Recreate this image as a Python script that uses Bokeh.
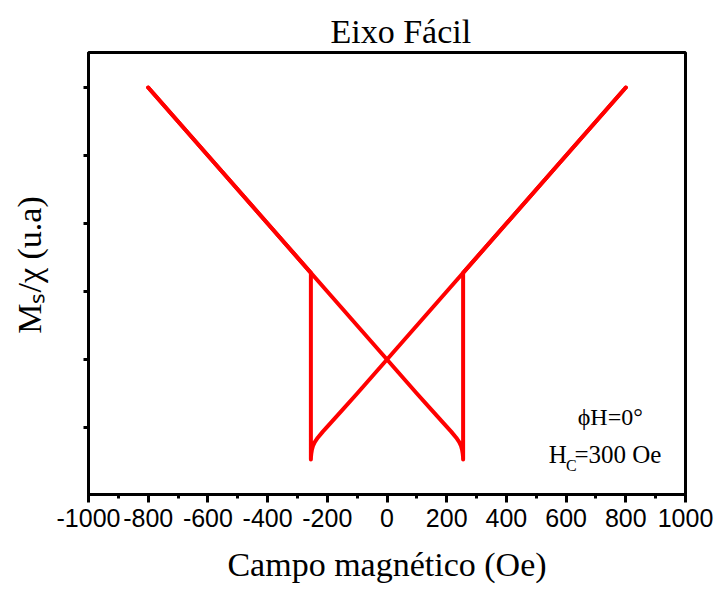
from bokeh.plotting import figure
from bokeh.models import Label, Range1d, SingleIntervalTicker, FixedTicker
from bokeh.embed import file_html
from bokeh.resources import INLINE

# Branch swept from negative field: "\" line down to the switching field, jump, then "/" line
field_branch1 = [-800, -600, -400, -200, 0, 100, 150, 190, 215, 232, 242, 248, 251.5, 253.5, 254.7, 255, 255, 400, 600, 800]
m_branch1 = [6.0, 5.0, 4.0, 3.0, 2.0, 1.5, 1.255, 1.06, 0.94, 0.85, 0.785, 0.73, 0.675, 0.62, 0.57, 0.53, 3.275, 4.0, 5.0, 6.0]
# Branch swept from positive field: "/" line down to the negative switching field, jump, then "\" line
field_branch2 = [800, 600, 400, 200, 0, -100, -150, -190, -215, -232, -242, -248, -251.5, -253.5, -254.7, -255, -255, -400, -600, -800]
m_branch2 = [6.0, 5.0, 4.0, 3.0, 2.0, 1.5, 1.255, 1.06, 0.94, 0.85, 0.785, 0.73, 0.675, 0.62, 0.57, 0.53, 3.275, 4.0, 5.0, 6.0]

x_ticks = [-1000, -800, -600, -400, -200, 0, 200, 400, 600, 800, 1000]
x_tick_labels = ["-1000", "-800", "-600", "-400", "-200", "0", "200", "400", "600", "800", "1000"]
y_ticks = [1, 2, 3, 4, 5, 6]

title_text = "Eixo Fácil"
xlabel_text = "Campo magnético (Oe)"
ylabel_text = "\u00a0\u00a0Mₛ/χ (u.a)"

serif = "Liberation Serif"

p = figure(width=714, height=588, output_backend="svg", toolbar_location=None,
           x_range=Range1d(-1000, 1000), y_range=Range1d(0.015, 6.515),
           min_border_left=88, min_border_right=29, min_border_top=52, min_border_bottom=94)
p.grid.visible = False
p.outline_line_color = "black"
p.outline_line_width = 3
p.background_fill_color = "white"
p.border_fill_color = "white"

p.title.text = title_text
p.title.text_font = serif
p.title.text_font_size = "34px"
p.title.text_font_style = "normal"
p.title.text_color = "black"
p.title.align = "left"
p.title.offset = 242
p.title.vertical_align = "top"
p.title.standoff = 2

red = "#ff0000"
p.line(field_branch1, m_branch1, line_color=red, line_width=4, line_join="round", line_cap="round")
p.line(field_branch2, m_branch2, line_color=red, line_width=4, line_join="round", line_cap="round")

xa = p.xaxis[0]
xa.ticker = SingleIntervalTicker(interval=200, num_minor_ticks=2)
xa.major_label_overrides = dict(zip(x_ticks, x_tick_labels))
xa.axis_line_width = 3
xa.axis_line_color = "black"
xa.major_tick_line_width = 3
xa.minor_tick_line_width = 3
xa.major_tick_out = 8
xa.major_tick_in = 0
xa.minor_tick_out = 4
xa.minor_tick_in = 0
xa.major_label_text_font = "Liberation Sans"
xa.major_label_text_font_size = "25px"
xa.major_label_text_color = "black"
xa.major_label_standoff = 6
xa.axis_label = xlabel_text
xa.axis_label_text_font = serif
xa.axis_label_text_font_size = "34px"
xa.axis_label_text_font_style = "normal"
xa.axis_label_text_color = "black"
xa.axis_label_standoff = 16

ya = p.yaxis[0]
ya.ticker = FixedTicker(ticks=y_ticks, minor_ticks=[])
ya.axis_line_width = 3
ya.axis_line_color = "black"
ya.major_tick_line_width = 3
ya.major_tick_out = 5
ya.major_tick_in = 0
ya.minor_tick_line_color = None
ya.major_label_overrides = {t: "" for t in y_ticks}
ya.axis_label = ylabel_text
ya.axis_label_text_font = serif
ya.axis_label_text_font_size = "34px"
ya.axis_label_text_font_style = "normal"
ya.axis_label_text_color = "black"
ya.axis_label_standoff = 36

# Annotations inside the plot
p.add_layout(Label(x=748, y=1.162, text="ϕH=0°", text_font=serif, text_font_size="24px",
                   text_align="center", text_baseline="alphabetic", text_color="black"))
p.add_layout(Label(x=542, y=0.603, text="H", text_font=serif, text_font_size="25px",
                   text_align="left", text_baseline="alphabetic", text_color="black"))
p.add_layout(Label(x=600, y=0.441, text="C", text_font=serif, text_font_size="16px",
                   text_align="left", text_baseline="alphabetic", text_color="black"))
p.add_layout(Label(x=628, y=0.603, text="=300 Oe", text_font=serif, text_font_size="25px",
                   text_align="left", text_baseline="alphabetic", text_color="black"))

open("out.html", "w").write(file_html(p, INLINE))
